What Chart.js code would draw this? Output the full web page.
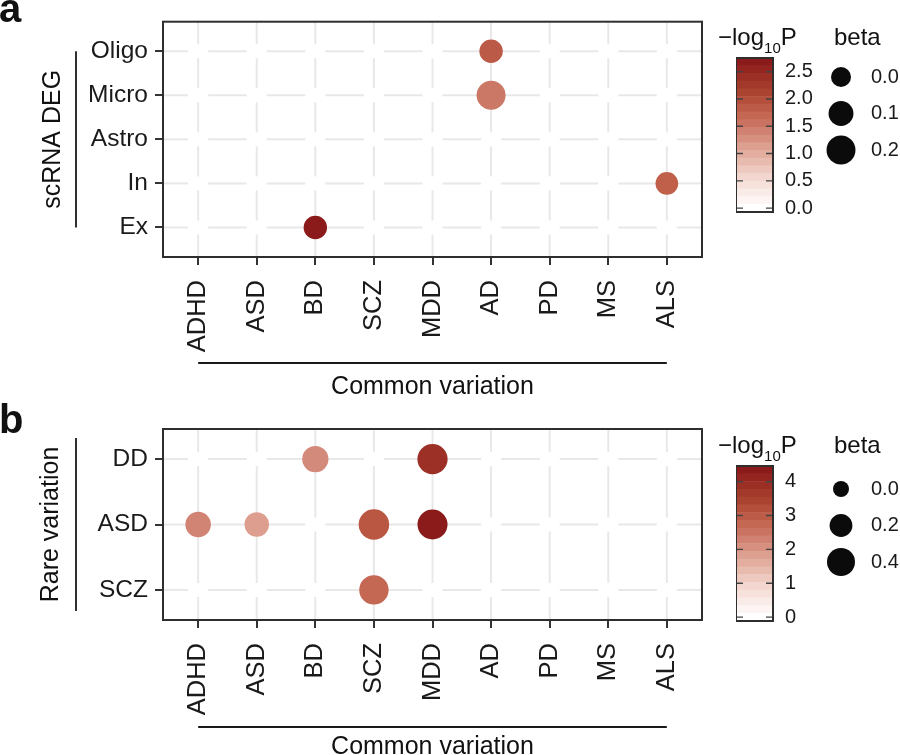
<!DOCTYPE html>
<html>
<head>
<meta charset="utf-8">
<script src="https://cdn.jsdelivr.net/npm/chart.js@4/dist/chart.umd.min.js"></script>
<style>
  html, body { margin: 0; padding: 0; background: #fff; }
  #wrap { position: relative; width: 900px; height: 755px; overflow: hidden; background: #fff; }
  canvas { position: absolute; }
</style>
</head>
<body>
<div id="wrap">
  <canvas id="mainA" width="900" height="400" style="left:0;top:0"></canvas>
  <canvas id="cbA" width="84" height="202" style="left:736px;top:34px"></canvas>
  <canvas id="szA" width="85" height="187" style="left:815px;top:20px"></canvas>
  <canvas id="mainB" width="900" height="355" style="left:0;top:400px"></canvas>
  <canvas id="cbB" width="84" height="203" style="left:736px;top:442px"></canvas>
  <canvas id="szB" width="85" height="187" style="left:815px;top:432px"></canvas>
</div>
<script>
// x axis: common-variation GWAS traits
const traits = ["ADHD", "ASD", "BD", "SCZ", "MDD", "AD", "PD", "MS", "ALS"];

// panel a: scRNA DEG (rows listed bottom -> top)
const degRows  = ["Ex", "In", "Astro", "Micro", "Oligo"];
const degCell  = ["Oligo", "Micro", "In", "Ex"];
const degTrait = ["AD", "AD", "ALS", "BD"];
const degLogP  = [1.85, 1.5, 1.78, 2.68];
const degBeta  = [0.067, 0.2, 0.051, 0.067];
const degPMax  = 2.68;
const degPTicks = [0, 0.5, 1, 1.5, 2, 2.5];
const degBetaBreaks = [0, 0.1, 0.2];

// panel b: rare variation (rows listed bottom -> top)
const rareRows  = ["SCZ", "ASD", "DD"];
const rareSet   = ["DD", "DD", "ASD", "ASD", "ASD", "ASD", "SCZ"];
const rareTrait = ["BD", "MDD", "ADHD", "ASD", "SCZ", "MDD", "SCZ"];
const rareLogP  = [2.15, 3.85, 2.25, 1.85, 3.05, 4.35, 2.75];
const rareBeta  = [0.33, 0.5, 0.3, 0.26, 0.51, 0.49, 0.46];
const rarePMax  = 4.35;
const rarePTicks = [0, 1, 2, 3, 4];
const rareBetaBreaks = [0, 0.2, 0.4];

const FONT = "'Liberation Sans', Arial, Helvetica, sans-serif";
Chart.defaults.font.family = FONT;
Chart.defaults.color = "#1a1a1a";
Chart.defaults.animation = false;
Chart.defaults.responsive = false;
Chart.defaults.events = [];
Chart.defaults.layout.autoPadding = false;
Chart.defaults.plugins.legend.display = false;
Chart.defaults.plugins.tooltip.enabled = false;

// white -> firebrick colour ramp
const stops = [
  [0, [255, 255, 255]], [0.2, [243, 217, 210]], [0.4, [224, 165, 150]],
  [0.55, [205, 122, 106]], [0.65, [194, 99, 78]], [0.8, [169, 65, 47]], [1, [139, 26, 26]]
];
function heat(t) {
  t = Math.max(0, Math.min(1, t));
  for (let i = 1; i < stops.length; i++) {
    if (t <= stops[i][0]) {
      const [t0, c0] = stops[i - 1], [t1, c1] = stops[i];
      const f = (t - t0) / (t1 - t0);
      const c = c0.map((v, k) => Math.round(v + (c1[k] - v) * f));
      return `rgb(${c[0]},${c[1]},${c[2]})`;
    }
  }
  return "rgb(139,26,26)";
}
const radA = b => Math.sqrt(100 + 550 * b);
const radB = b => Math.sqrt(64 + 330 * b);

function decor(p) {
  const seg = (ctx, x1, y1, x2, y2) => {
    if (x2 - x1 < 0.5 && y2 - y1 < 0.5) return;
    ctx.beginPath(); ctx.moveTo(x1, y1); ctx.lineTo(x2, y2); ctx.stroke();
  };
  return {
    id: "decor",
    beforeDatasetsDraw(chart) {
      const { ctx, chartArea: a, scales: { x, y } } = chart;
      const xs = traits.map((t, i) => x.getPixelForValue(i));
      const ys = p.rows.map((r, i) => y.getPixelForValue(i)).sort((m, n) => m - n);
      ctx.save();
      ctx.strokeStyle = "#e8e8e8";
      ctx.lineWidth = 2;
      ys.forEach(py => {
        let cur = a.left;
        xs.forEach(px => { seg(ctx, cur, py, px - 10, py); cur = px + 10; });
        seg(ctx, cur, py, a.right, py);
      });
      xs.forEach(px => {
        let cur = a.top;
        ys.forEach(py => { seg(ctx, px, cur, px, py - 7); cur = py + 7; });
        seg(ctx, px, cur, px, a.bottom);
      });
      ctx.restore();
    },
    afterDraw(chart) {
      const { ctx, chartArea: a, scales: { x, y } } = chart;
      const xs = traits.map((t, i) => x.getPixelForValue(i));
      const ys = p.rows.map((r, i) => y.getPixelForValue(i));
      ctx.save();
      ctx.strokeStyle = "#2e2e2e";
      ctx.lineWidth = 2;
      ctx.strokeRect(a.left, a.top, a.width, a.height);

      ctx.fillStyle = "#111";
      ctx.font = "bold 40px " + FONT;
      ctx.textAlign = "left";
      ctx.fillText(p.letter, -1, p.letterBase);

      // row group title + bracket line
      const yTop = Math.min(...ys), yBot = Math.max(...ys);
      ctx.strokeStyle = "#1a1a1a";
      ctx.lineWidth = 1.8;
      seg(ctx, 76, yTop - p.lineExt, 76, yBot + p.lineExt);
      ctx.save();
      ctx.translate(p.titleX, (yTop + yBot) / 2);
      ctx.rotate(-Math.PI / 2);
      ctx.font = "25px " + FONT;
      ctx.textAlign = "center";
      ctx.fillText(p.yTitle, 0, 0);
      ctx.restore();

      // column group title + line
      seg(ctx, xs[0], p.lineY, xs[xs.length - 1], p.lineY);
      ctx.font = "25px " + FONT;
      ctx.textAlign = "center";
      ctx.fillText("Common variation", (xs[0] + xs[xs.length - 1]) / 2, p.textY);

      // legend titles
      ctx.textAlign = "left";
      ctx.font = "24px " + FONT;
      let lx = 718;
      ctx.fillText("\u2212log", lx, p.legBase);
      lx += ctx.measureText("\u2212log").width;
      ctx.font = "15px " + FONT;
      ctx.fillText("10", lx, p.legBase + 8);
      lx += ctx.measureText("10").width;
      ctx.font = "24px " + FONT;
      ctx.fillText("P", lx, p.legBase);
      ctx.fillText("beta", 834, p.legBase);
      ctx.restore();
    }
  };
}

function dotPanel(id, p) {
  const pts = p.set.map((s, i) => ({ x: traits.indexOf(p.trait[i]), y: p.rows.indexOf(s), r: p.radius(p.beta[i]) }));
  const cols = p.logP.map(v => heat(v / p.maxP));
  const axisLook = { drawOnChartArea: false, drawTicks: true, tickLength: 8, tickColor: "#333", tickWidth: 2, color: "#333", lineWidth: 2 };
  return new Chart(document.getElementById(id), {
    type: "bubble",
    data: { datasets: [{ data: pts, backgroundColor: cols, borderWidth: 0 }] },
    options: {
      layout: { padding: { left: 0, right: 198, top: p.padTop, bottom: 0 } },
      scales: {
        x: {
          type: "linear", min: -0.6, max: traits.length - 0.4,
          afterBuildTicks: s => { s.ticks = traits.map((t, i) => ({ value: i })); },
          afterFit: s => { s.height = p.xH; },
          ticks: { autoSkip: false, minRotation: 90, maxRotation: 90, padding: 15, font: { size: 25.5 }, callback: v => traits[v] },
          grid: axisLook, border: { display: false }
        },
        y: {
          type: "linear", min: -p.yPad, max: p.rows.length - 1 + p.yPad,
          afterBuildTicks: s => { s.ticks = p.rows.map((r, i) => ({ value: i })); },
          afterFit: s => { s.width = 163; },
          ticks: { padding: 7, font: { size: 24.5 }, callback: v => p.rows[v] },
          grid: axisLook, border: { display: false }
        }
      }
    },
    plugins: [decor(p)]
  });
}

function colorBar(id, maxP, ticks, digits) {
  const n = 20, d = maxP / (n - 1);
  const datasets = [];
  for (let i = 0; i < n; i++) {
    datasets.push({ data: [[(i - 0.5) * d, (i + 0.5) * d]], backgroundColor: heat(i / (n - 1)),
      grouped: false, barPercentage: 1, categoryPercentage: 1, borderWidth: 0 });
  }
  const frame = {
    id: "frame",
    afterDraw(chart) {
      const { ctx, chartArea: a, scales: { y } } = chart;
      ctx.save();
      ctx.strokeStyle = "#444";
      ctx.lineWidth = 1.4;
      ticks.forEach(v => {
        const py = y.getPixelForValue(v);
        ctx.beginPath();
        ctx.moveTo(a.left, py); ctx.lineTo(a.left + 7, py);
        ctx.moveTo(a.right - 7, py); ctx.lineTo(a.right, py);
        ctx.stroke();
      });
      ctx.strokeStyle = "#2e2e2e";
      ctx.lineWidth = 2;
      ctx.strokeRect(a.left, a.top, a.width, a.height);
      ctx.restore();
    }
  };
  return new Chart(document.getElementById(id), {
    type: "bar",
    data: { labels: [""], datasets },
    options: {
      layout: { padding: { left: 0, right: 0, top: 24, bottom: 24 } },
      scales: {
        x: { display: false },
        y: {
          position: "right", min: -0.5 * d, max: maxP + 0.5 * d,
          afterBuildTicks: s => { s.ticks = ticks.map(v => ({ value: v })); },
          afterFit: s => { s.width = 84 - 37; },
          ticks: { padding: 12, font: { size: 20 }, callback: v => v.toFixed(digits) },
          grid: { display: false, drawTicks: false }, border: { display: false }
        }
      }
    },
    plugins: [frame]
  });
}

function sizeLegend(id, breaks, radius) {
  const n = breaks.length;
  return new Chart(document.getElementById(id), {
    type: "bubble",
    data: { datasets: [{ data: breaks.map((b, i) => ({ x: 0, y: n - 1 - i, r: radius(b) })), backgroundColor: "#0b0b0b", borderWidth: 0 }] },
    options: {
      layout: { padding: { left: 0, right: 0, top: 20.5, bottom: 20.5 } },
      scales: {
        x: { display: false, min: -1, max: 1 },
        y: {
          position: "right", min: -1, max: n,
          afterBuildTicks: s => { s.ticks = breaks.map((b, i) => ({ value: n - 1 - i })); },
          afterFit: s => { s.width = 33; },
          ticks: { padding: 4, font: { size: 20 }, callback: v => breaks[n - 1 - v].toFixed(1) },
          grid: { display: false, drawTicks: false }, border: { display: false }
        }
      }
    }
  });
}

dotPanel("mainA", {
  rows: degRows, set: degCell, trait: degTrait, logP: degLogP, beta: degBeta, maxP: degPMax, radius: radA,
  padTop: 21, xH: 143, yPad: 0.67,
  letter: "a", letterBase: 22, yTitle: "scRNA DEG", titleX: 60, lineExt: 0,
  lineY: 363, textY: 394, legBase: 45
});
colorBar("cbA", degPMax, degPTicks, 1);
sizeLegend("szA", degBetaBreaks, radA);

dotPanel("mainB", {
  rows: rareRows, set: rareSet, trait: rareTrait, logP: rareLogP, beta: rareBeta, maxP: rarePMax, radius: radB,
  padTop: 29, xH: 135, yPad: 0.46,
  letter: "b", letterBase: 33, yTitle: "Rare variation", titleX: 58, lineExt: 21,
  lineY: 327, textY: 354, legBase: 53
});
colorBar("cbB", rarePMax, rarePTicks, 0);
sizeLegend("szB", rareBetaBreaks, radB);
</script>
</body>
</html>
